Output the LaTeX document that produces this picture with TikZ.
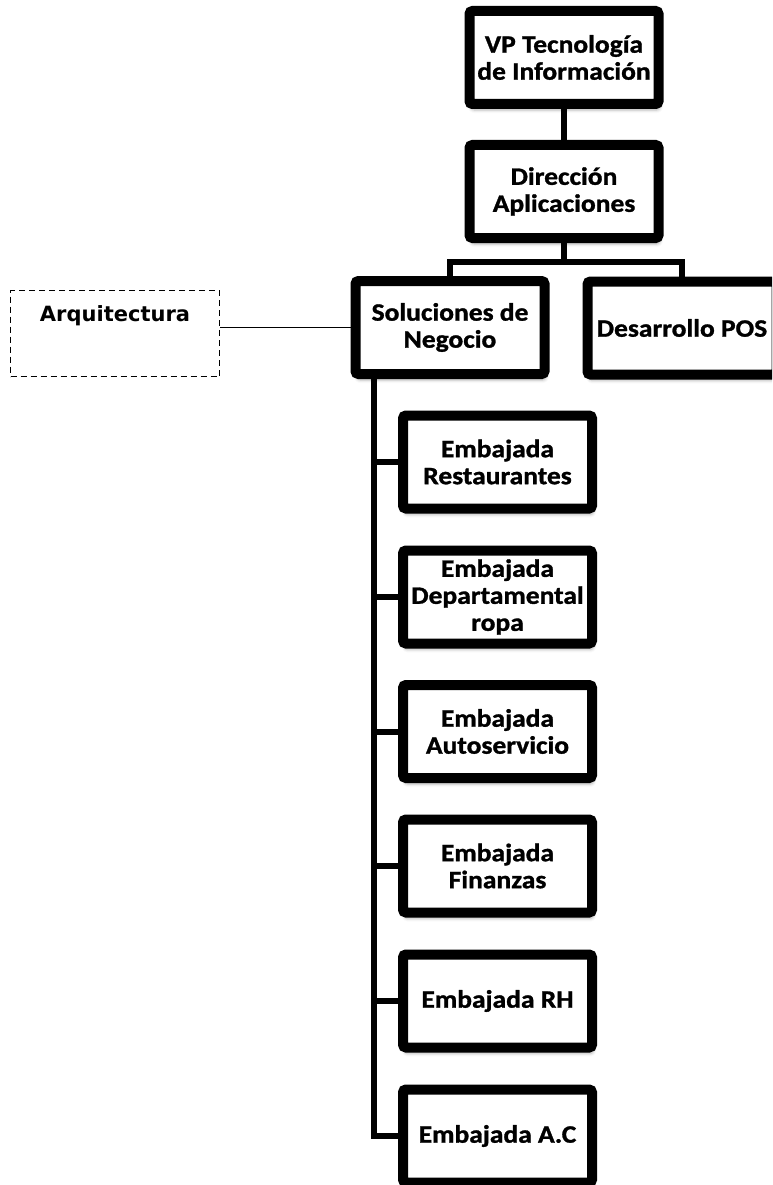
\documentclass[tikz,border=0pt]{standalone}
\usepackage{fontspec}
\setmainfont{Carlito}[BoldFeatures={FakeStretch=1.1, FakeBold=1.2}]
\newfontfamily\verdana{DejaVu Sans}
\usetikzlibrary{shadows.blur}

\tikzset{
  unit/.style={rectangle, draw=black, line width=10pt, rounded corners=3pt, fill=white,
    minimum width=189pt, minimum height=93pt, inner sep=0pt, align=center,
    font=\bfseries\fontsize{25}{27}\selectfont,
    blur shadow={shadow xshift=1.5pt, shadow yshift=-6pt, shadow blur radius=3pt, shadow opacity=30}},
  link/.style={line width=6pt},
  staff/.style={rectangle, draw=black, line width=1.7pt, dash pattern=on 6pt off 4pt,
    minimum width=209pt, inner sep=0pt, text height=31pt, text depth=55pt,
    font=\verdana\bfseries\fontsize{21}{25}\selectfont},
}

\begin{document}
\begin{tikzpicture}[x=1pt, y=-1pt]
\useasboundingbox (0,0) rectangle (772,1185);
\clip (0,0) rectangle (772,1185);

\node (vp) at (564, 57.5) [unit] {VP Tecnología\\de Información};
\node (dir) at (564, 191.5) [unit] {Dirección\\Aplicaciones};
\node (sol) at (450, 327.5) [unit] {Soluciones de\\Negocio};
\node (pos) at (682, 328) [unit] {Desarrollo POS};

\node (arq) at (115, 333.5) [staff] {Arquitectura};

\coordinate (bus) at (564, 262);
\coordinate (trunk) at (374, 378);

\draw [link] (vp) -- (dir);
\draw [link] (dir) -- (bus) -| (sol);
\draw [link] (bus) -| (pos);
\draw [line width=1.7pt] (sol.west) -- (sol.west -| arq.east);

% embajadas
\node (e1) at (497.5, 462) [unit] {Embajada\\Restaurantes};
\node (e2) at (497.5, 597) [unit] {Embajada\\Departamental\\ropa};
\node (e3) at (497.5, 731.5) [unit] {Embajada\\Autoservicio};
\node (e4) at (497.5, 866) [unit] {Embajada\\Finanzas};
\node (e5) at (497.5, 1001) [unit] {Embajada RH};
\node (e6) at (497.5, 1136) [unit] {Embajada A.C};

\draw [link] (trunk) |- (e1);
\draw [link] (trunk) |- (e2);
\draw [link] (trunk) |- (e3);
\draw [link] (trunk) |- (e4);
\draw [link] (trunk) |- (e5);
\draw [link] (trunk) |- (e6);
\end{tikzpicture}
\end{document}
